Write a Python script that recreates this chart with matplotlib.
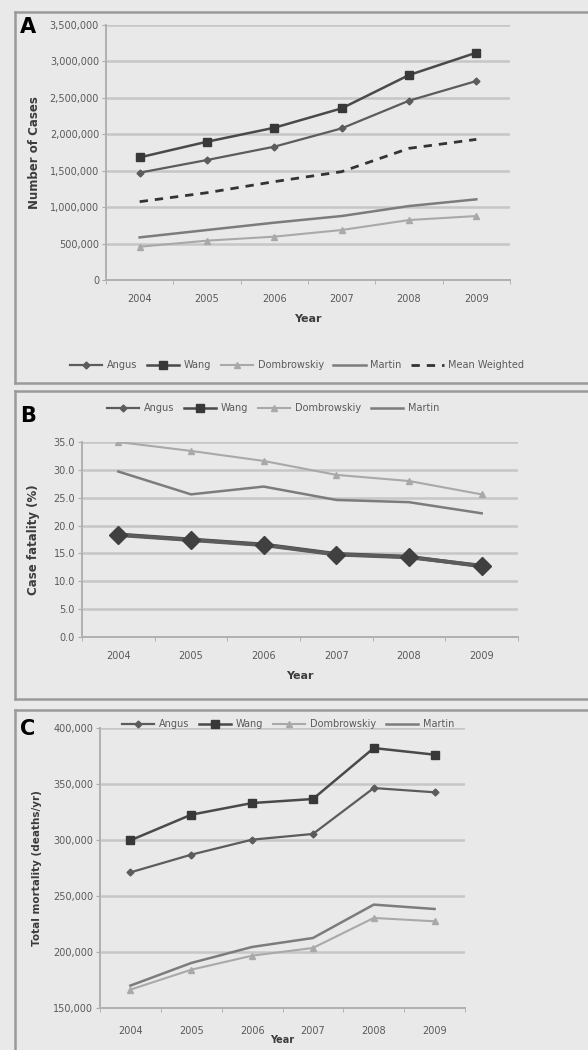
import matplotlib
matplotlib.use("Agg")
import matplotlib.pyplot as plt
from matplotlib.lines import Line2D
from matplotlib.ticker import FuncFormatter, FixedLocator

years = ["2004", "2005", "2006", "2007", "2008", "2009"]

# Panel A: number of cases
cases_angus = [1473000, 1647000, 1830000, 2081000, 2461000, 2731000]
cases_wang = [1683000, 1898000, 2090000, 2356000, 2813000, 3120000]
cases_dombrowskiy = [457000, 540000, 595000, 686000, 823000, 878000]
cases_martin = [585000, 686000, 787000, 878000, 1015000, 1107000]
cases_mean = [1075000, 1198000, 1350000, 1487000, 1807000, 1930000]

# Panel B: case fatality (%)
cfr_angus = [18.3, 17.4, 16.5, 14.8, 14.3, 12.8]
cfr_wang = [18.4, 17.5, 16.6, 14.9, 14.4, 12.7]
cfr_dombrowskiy = [35.0, 33.4, 31.6, 29.1, 28.0, 25.6]
cfr_martin = [29.7, 25.6, 27.0, 24.6, 24.2, 22.2]

# Panel C: total mortality (deaths/yr)
deaths_angus = [271100, 286900, 300300, 305400, 346400, 342600]
deaths_wang = [299700, 322600, 333000, 336600, 382100, 376200]
deaths_dombrowskiy = [166400, 184200, 196700, 203600, 230400, 227400]
deaths_martin = [170000, 190200, 204500, 212500, 242300, 238400]

BG = "#e9e9e9"
GRID = "#c6c6c6"
C_ANGUS = "#5c5c5c"
C_WANG = "#4a4a4a"
C_DOMB = "#a9a9a9"
C_MARTIN = "#7c7c7c"
C_MEAN = "#333333"
TXT = "#5a5a5a"
LAB = "#3c3c3c"

W, H = 588, 1050
fig = plt.figure(figsize=(W / 100, H / 100), dpi=100, facecolor=BG)


def rect(l, t, r, b):
    return [l / W, 1 - b / H, (r - l) / W, (b - t) / H]


def frame(t, b):
    # panel border like the pasted Excel charts
    l = 15
    kw = dict(color="#9a9a9a", lw=1.8, transform=fig.transFigure, clip_on=False)
    fig.add_artist(Line2D([l / W, 1], [1 - t / H] * 2, **kw))
    fig.add_artist(Line2D([l / W] * 2, [1 - t / H, 1 - b / H], **kw))
    fig.add_artist(Line2D([l / W, 1], [1 - b / H] * 2, **kw))


def style(ax, ylim, yticks, fmt, pad=10):
    ax.set_facecolor(BG)
    ax.set_xlim(-0.5, len(years) - 0.5)
    ax.set_ylim(*ylim)
    ax.yaxis.set_major_locator(FixedLocator(yticks))
    ax.yaxis.set_major_formatter(FuncFormatter(fmt))
    ax.set_xticks(list(range(len(years))))
    ax.set_xticklabels(years)
    ax.xaxis.set_minor_locator(FixedLocator([i - 0.5 for i in range(len(years) + 1)]))
    ax.tick_params(axis="x", which="major", length=0, pad=pad, labelsize=7, labelcolor=TXT)
    ax.tick_params(axis="x", which="minor", length=3, color="#aaaaaa", direction="out")
    ax.tick_params(axis="y", length=3, color="#aaaaaa", labelsize=7, labelcolor=TXT, pad=2)
    ax.grid(axis="y", color=GRID, lw=1.8)
    ax.set_axisbelow(True)
    for s in ["top", "right"]:
        ax.spines[s].set_visible(False)
    for s in ["left", "bottom"]:
        ax.spines[s].set_color("#b0b0b0")
        ax.spines[s].set_linewidth(1.4)


thousands = lambda v, p: f"{int(v):,}"
leg_kw = dict(loc="center", frameon=False, fontsize=7, labelcolor=TXT, handlelength=3.3,
              columnspacing=1.0, handletextpad=0.5)
x = range(len(years))

# ---------------- Panel A ----------------
frame(12, 383)
axA = fig.add_axes(rect(106, 25, 510, 280))
axA.plot(x, cases_martin, color=C_MARTIN, lw=1.8, label="Martin", zorder=3)
axA.plot(x, cases_dombrowskiy, color=C_DOMB, lw=1.5, marker="^", ms=4, label="Dombrowskiy", zorder=3)
axA.plot(x, cases_mean, color=C_MEAN, lw=2, ls=(0, (3, 2.5)), label="Mean Weighted", zorder=3)
axA.plot(x, cases_angus, color=C_ANGUS, lw=1.6, marker="D", ms=3.5, label="Angus", zorder=4)
axA.plot(x, cases_wang, color=C_WANG, lw=1.8, marker="s", ms=5.5, mfc="#383838", mec="#383838",
         label="Wang", zorder=4)
style(axA, (0, 3500000), range(0, 3500001, 500000), thousands)
axA.set_xlabel("Year", fontsize=8, fontweight="bold", color=LAB, labelpad=7)
axA.set_ylabel("Number of Cases", fontsize=8.5, fontweight="bold", color=LAB, labelpad=6)
hA, lA = axA.get_legend_handles_labels()
order = ["Angus", "Wang", "Dombrowskiy", "Martin", "Mean Weighted"]
hA = [hA[lA.index(k)] for k in order]
fig.legend(hA, order, bbox_to_anchor=(297 / W, 1 - 365 / H), ncol=5, **leg_kw)
fig.text(20 / W, 1 - 27 / H, "A", fontsize=15, fontweight="bold", va="center")

# ---------------- Panel B ----------------
frame(391, 699)
axB = fig.add_axes(rect(82, 442, 518, 637))
axB.plot(x, cfr_dombrowskiy, color=C_DOMB, lw=1.5, marker="^", ms=4, zorder=3)
axB.plot(x, cfr_martin, color=C_MARTIN, lw=1.8, zorder=3)
axB.plot(x, cfr_wang, color=C_WANG, lw=2.8, marker="s", ms=6, zorder=4)
axB.plot(x, cfr_angus, color=C_ANGUS, lw=2.8, marker="D", ms=9, mfc="#404040", mec="#404040", zorder=5)
style(axB, (0, 35), [0, 5, 10, 15, 20, 25, 30, 35], lambda v, p: f"{v:.1f}")
axB.set_xlabel("Year", fontsize=8, fontweight="bold", color=LAB, labelpad=7)
axB.set_ylabel("Case fatality (%)", fontsize=8.5, fontweight="bold", color=LAB, labelpad=10)
order4 = ["Angus", "Wang", "Dombrowskiy", "Martin"]
hB = [Line2D([], [], color=C_ANGUS, lw=1.6, marker="D", ms=3.5),
      Line2D([], [], color=C_WANG, lw=1.8, marker="s", ms=5.5, mfc="#383838", mec="#383838"),
      Line2D([], [], color=C_DOMB, lw=1.5, marker="^", ms=4),
      Line2D([], [], color=C_MARTIN, lw=1.8)]
fig.legend(hB, order4, bbox_to_anchor=(273 / W, 1 - 408 / H), ncol=4, **leg_kw)
fig.text(20 / W, 1 - 416 / H, "B", fontsize=15, fontweight="bold", va="center")

# ---------------- Panel C ----------------
frame(710, 1052)
axC = fig.add_axes(rect(100, 728, 465, 1008))
axC.plot(x, deaths_dombrowskiy, color=C_DOMB, lw=1.5, marker="^", ms=4, zorder=3)
axC.plot(x, deaths_martin, color=C_MARTIN, lw=1.8, zorder=3)
axC.plot(x, deaths_angus, color=C_ANGUS, lw=1.6, marker="D", ms=3.5, zorder=4)
axC.plot(x, deaths_wang, color=C_WANG, lw=1.8, marker="s", ms=5.5, mfc="#383838", mec="#383838", zorder=4)
style(axC, (150000, 400000), range(150000, 400001, 50000), thousands, pad=13)
axC.set_xlabel("Year", fontsize=7, fontweight="bold", color=LAB, labelpad=-1)
axC.set_ylabel("Total mortality (deaths/yr)", fontsize=7.5, fontweight="bold", color=LAB, labelpad=8)
fig.legend(hB, order4, bbox_to_anchor=(288 / W, 1 - 724 / H), ncol=4, **leg_kw)
fig.text(20 / W, 1 - 729 / H, "C", fontsize=15, fontweight="bold", va="center")

fig.savefig("out.png", dpi=100, facecolor=BG)
